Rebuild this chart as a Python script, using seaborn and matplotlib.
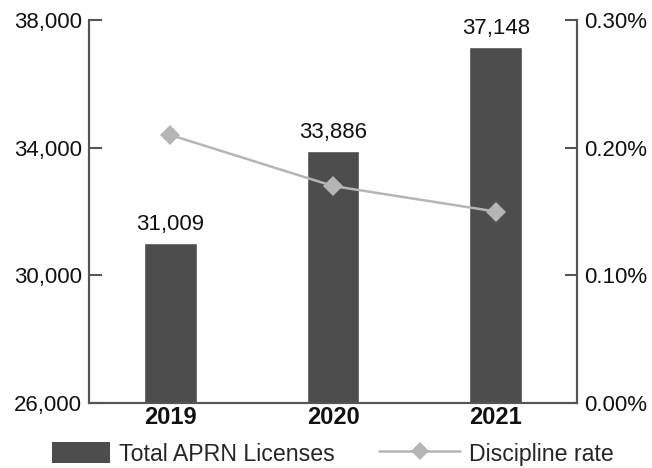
import matplotlib
matplotlib.use("Agg")
import matplotlib.pyplot as plt
import seaborn as sns
import pandas as pd
from matplotlib.patches import Patch, Rectangle
from matplotlib.lines import Line2D
from matplotlib.legend_handler import HandlerPatch
from matplotlib.ticker import FuncFormatter

years = ["2019", "2020", "2021"]
licenses = [31009, 33886, 37148]
discipline_rate = [0.21, 0.17, 0.15]  # percent
left_ticks = [26000, 30000, 34000, 38000]
right_ticks = [0.0, 0.10, 0.20, 0.30]

sns.set_theme(style="white")
plt.rcParams['font.family'] = ['Liberation Sans', 'DejaVu Sans']

bar_color = "#4d4d4d"
line_color = "#b5b5b5"
spine_color = "#555555"
fs = 16

df = pd.DataFrame({"year": years, "licenses": licenses, "rate": discipline_rate})

fig = plt.figure(figsize=(6.52, 4.68), dpi=100)
ax = fig.add_axes([0.1365, 0.139, 0.885 - 0.1365, 0.957 - 0.139])

sns.barplot(data=df, x="year", y="licenses", color=bar_color, width=0.325,
            saturation=1, ax=ax)
ax.set_ylim(26000, 38000)
ax.set_xlim(-0.5, 2.5)
ax.set_yticks(left_ticks)
ax.yaxis.set_major_formatter(FuncFormatter(lambda v, p: f"{int(v):,}"))
ax.set_xlabel("")
ax.set_ylabel("")
for i, v in enumerate(licenses):
    ax.text(i, v + 250, f"{v:,}", ha="center", va="bottom", fontsize=fs, color="#111111")

ax2 = ax.twinx()
sns.lineplot(x=list(range(len(years))), y=discipline_rate, ax=ax2, color=line_color,
             marker="D", markersize=10, markeredgewidth=0, linewidth=1.8)
ax2.set_ylim(0, 0.30)
ax2.set_yticks(right_ticks)
ax2.yaxis.set_major_formatter(FuncFormatter(lambda v, p: f"{v:.2f}%"))
ax2.set_xlim(-0.5, 2.5)

for a in (ax, ax2):
    a.spines["top"].set_visible(False)
    for s in ("left", "right", "bottom"):
        a.spines[s].set_color(spine_color)
        a.spines[s].set_linewidth(1.5)

ax.tick_params(axis="y", direction="in", length=9, width=1.5, color=spine_color,
               labelsize=fs, pad=5, labelcolor="#111111")
ax2.tick_params(axis="y", direction="in", length=9, width=1.5, color=spine_color,
                labelsize=fs, pad=5, labelcolor="#111111")
ax.tick_params(axis="x", length=0, labelsize=fs + 1, pad=2, labelcolor="#111111")
for t in ax.get_xticklabels():
    t.set_fontweight("bold")


def narrow_patch(legend, orig_handle, xdescent, ydescent, width, height, fontsize):
    w = width * 0.71
    return Rectangle((-xdescent + width - w, -ydescent), w, height)


handles = [Patch(facecolor=bar_color, edgecolor="none"),
           Line2D([0], [0], color=line_color, marker="D", markersize=9,
                  markeredgewidth=0, linewidth=1.8)]
fig.legend(handles, ["Total APRN Licenses", "Discipline rate"], loc="center",
           bbox_to_anchor=(0.493, 0.03), ncol=2, frameon=False, fontsize=16.7,
           handlelength=3.5, handleheight=1.0, columnspacing=1.9, handletextpad=0.4,
           borderpad=0, handler_map={Patch: HandlerPatch(patch_func=narrow_patch)})

fig.savefig("out.png", dpi=100)
